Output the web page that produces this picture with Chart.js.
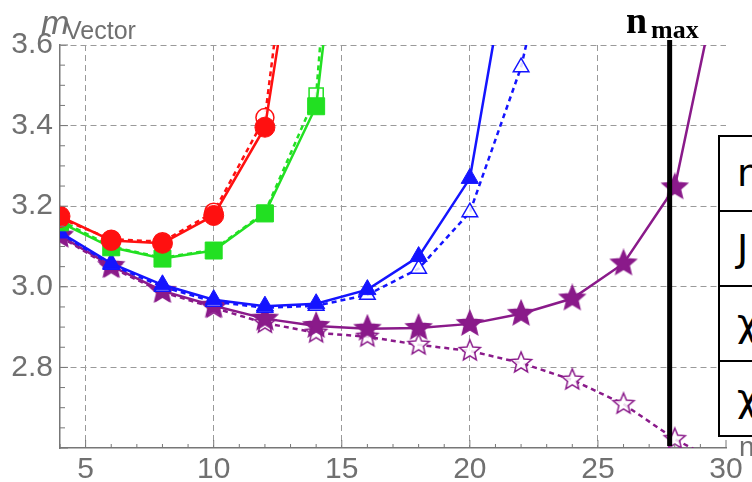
<!DOCTYPE html>
<html>
<head>
<meta charset="utf-8">
<script src="https://cdn.jsdelivr.net/npm/chart.js@4/dist/chart.umd.min.js"></script>
<style>
  body { margin: 0; background: #fff; overflow: hidden; }
  #wrap { position: relative; width: 752px; height: 482px; overflow: hidden; }
  #chart { position: absolute; left: 0; top: 0; }
  .lbl { position: absolute; white-space: nowrap; line-height: 1; }
  #legendBox { position: absolute; left: 718px; top: 135px; width: 80px; border: 2px solid #000; background: #fff;
    font-family: "DejaVu Sans", sans-serif; font-size: 38px; }
  #legendBox div { height: 73px; border-bottom: 2px solid #000; padding-left: 17px; line-height: 73px; }
  #legendBox div:last-child { border-bottom: none; }
</style>
</head>
<body>
<div id="wrap">
  <canvas id="chart" width="752" height="482"></canvas>
  <span class="lbl" style="left:41px; top:3px; font:italic 34px 'Liberation Sans'; color:#707070;">m</span>
  <span class="lbl" style="left:65px; top:16px; font:25px 'Liberation Sans'; color:#707070;">Vector</span>
  <span class="lbl" style="left:626px; top:-2px; font:bold 38px 'Liberation Serif'; color:#000;">n</span>
  <span class="lbl" style="left:651px; top:15px; font:bold 26px 'Liberation Serif'; color:#000;">max</span>
  <span class="lbl" style="left:739px; top:431px; font:28px 'Liberation Sans'; color:#707070;">n</span>
  <div id="legendBox">
    <div>n</div>
    <div>J</div>
    <div>χ</div>
    <div>χ</div>
  </div>
</div>
<script>
// n values shared by all series
const nValues = [4, 6, 8, 10, 12, 14, 16, 18, 20, 22, 24, 26, 28, 30];

// filled markers / solid lines, open markers / dashed lines
const redSolid = [3.175, 3.115, 3.108, 3.177, 3.396, 4.2];
const redOpen = [3.17, 3.118, 3.112, 3.185, 3.42, 4.43];
const greenSolid = [3.16, 3.098, 3.07, 3.09, 3.182, 3.448, 4.55];
const greenOpen = [3.165, 3.1, 3.072, 3.092, 3.185, 3.476, 5.06];
const blueSolid = [3.135, 3.058, 3.005, 2.968, 2.952, 2.958, 2.993, 3.075, 3.269, 4.0];
const blueOpen = [3.133, 3.055, 3.0, 2.963, 2.948, 2.953, 2.98, 3.045, 3.185, 3.545, 4.1];
const purpleSolid = [3.127, 3.052, 2.99, 2.953, 2.921, 2.903, 2.896, 2.898, 2.908, 2.933, 2.971, 3.058, 3.247, 3.85];
const purpleOpen = [3.125, 3.048, 2.987, 2.948, 2.91, 2.886, 2.876, 2.856, 2.841, 2.811, 2.769, 2.709, 2.622, 2.555];

const xTicks = [5, 10, 15, 20, 25, 30];
const yTicks = [2.8, 3.0, 3.2, 3.4, 3.6];
const nMax = 27.8;

const RED = '#ff1010', GREEN = '#22e022', BLUE = '#1414ff', PURPLE = '#8a1a8a';

function starImage(r, color, filled) {
  const c = document.createElement('canvas');
  const s = Math.ceil(r * 2 + 4);
  c.width = s; c.height = s;
  const g = c.getContext('2d');
  g.beginPath();
  for (let i = 0; i < 10; i++) {
    const rad = i % 2 === 0 ? r : r * 0.45;
    const a = -Math.PI / 2 + i * Math.PI / 5;
    g.lineTo(s / 2 + rad * Math.cos(a), s / 2 + rad * Math.sin(a));
  }
  g.closePath();
  g.lineWidth = 1.5;
  g.strokeStyle = color;
  g.fillStyle = filled ? color : 'rgba(255,255,255,0.85)';
  g.fill();
  g.stroke();
  return c;
}

function series(vals, color, style, radius, open) {
  return {
    data: vals.map((v, i) => ({ x: nValues[i], y: v })),
    borderColor: color,
    borderWidth: 2.5,
    borderDash: open ? [5, 4] : [],
    tension: 0,
    pointStyle: style,
    pointRadius: radius,
    pointBorderWidth: open ? 1.5 : 1,
    pointBorderColor: color,
    pointBackgroundColor: open ? 'rgba(255,255,255,0.85)' : color
  };
}

// minor ticks and the n_max line
const extras = {
  id: 'extras',
  afterDraw(chart) {
    const { ctx, chartArea, scales } = chart;
    const x = scales.x, y = scales.y;
    ctx.save();
    ctx.strokeStyle = '#777';
    ctx.lineWidth = 1;
    for (let n = 4; n <= 30; n++) {
      const px = x.getPixelForValue(n);
      const len = n % 5 === 0 ? 8 : 4;
      ctx.beginPath();
      ctx.moveTo(px, chartArea.bottom);
      ctx.lineTo(px, chartArea.bottom - len);
      ctx.stroke();
    }
    for (let k = 0; k <= 20; k++) {
      const v = 2.6 + k * 0.05;
      const py = y.getPixelForValue(v);
      const len = k % 4 === 0 ? 8 : 5;
      ctx.beginPath();
      ctx.moveTo(chartArea.left, py);
      ctx.lineTo(chartArea.left + len, py);
      ctx.stroke();
    }
    const lx = x.getPixelForValue(nMax);
    ctx.strokeStyle = '#000';
    ctx.lineWidth = 5;
    ctx.beginPath();
    ctx.moveTo(lx, chartArea.top - 5);
    ctx.lineTo(lx, chartArea.bottom - 2);
    ctx.stroke();
    ctx.restore();
  }
};

new Chart(document.getElementById('chart'), {
  type: 'line',
  data: {
    datasets: [
      series(redSolid, RED, 'circle', 10, false),
      series(redOpen, RED, 'circle', 9, true),
      series(greenSolid, GREEN, 'rect', 12, false),
      series(greenOpen, GREEN, 'rect', 10, true),
      series(blueSolid, BLUE, 'triangle', 10, false),
      series(blueOpen, BLUE, 'triangle', 9, true),
      series(purpleSolid, PURPLE, starImage(13, PURPLE, true), 13, false),
      series(purpleOpen, PURPLE, starImage(11, PURPLE, false), 11, true)
    ]
  },
  options: {
    responsive: false,
    animation: false,
    layout: { padding: { top: 45, right: 26, left: 0, bottom: 0 } },
    plugins: { legend: { display: false }, tooltip: { enabled: false } },
    scales: {
      x: {
        type: 'linear',
        min: 4,
        max: 30,
        afterBuildTicks: s => { s.ticks = xTicks.map(v => ({ value: v })); },
        afterFit: s => { s.height = 34; },
        grid: {
          color: c => (c.tick && c.tick.value < 30) ? '#9a9a9a' : 'rgba(0,0,0,0)',
          lineWidth: 1,
          drawTicks: false
        },
        border: { color: '#777', width: 1.5, dash: [6, 4] },
        ticks: {
          font: { family: 'Liberation Sans', size: 30 },
          color: '#707070',
          padding: 4,
          maxRotation: 0,
          autoSkip: false
        }
      },
      y: {
        type: 'linear',
        min: 2.6,
        max: 3.6,
        afterBuildTicks: s => { s.ticks = yTicks.map(v => ({ value: v })); },
        afterFit: s => { s.width = 60; },
        grid: {
          color: '#9a9a9a',
          lineWidth: 1,
          drawTicks: false
        },
        border: { color: '#777', width: 1.5, dash: [6, 4] },
        ticks: {
          font: { family: 'Liberation Sans', size: 30 },
          color: '#707070',
          padding: 7,
          autoSkip: false,
          callback: v => v.toFixed(1)
        }
      }
    }
  },
  plugins: [extras]
});
</script>
</body>
</html>
